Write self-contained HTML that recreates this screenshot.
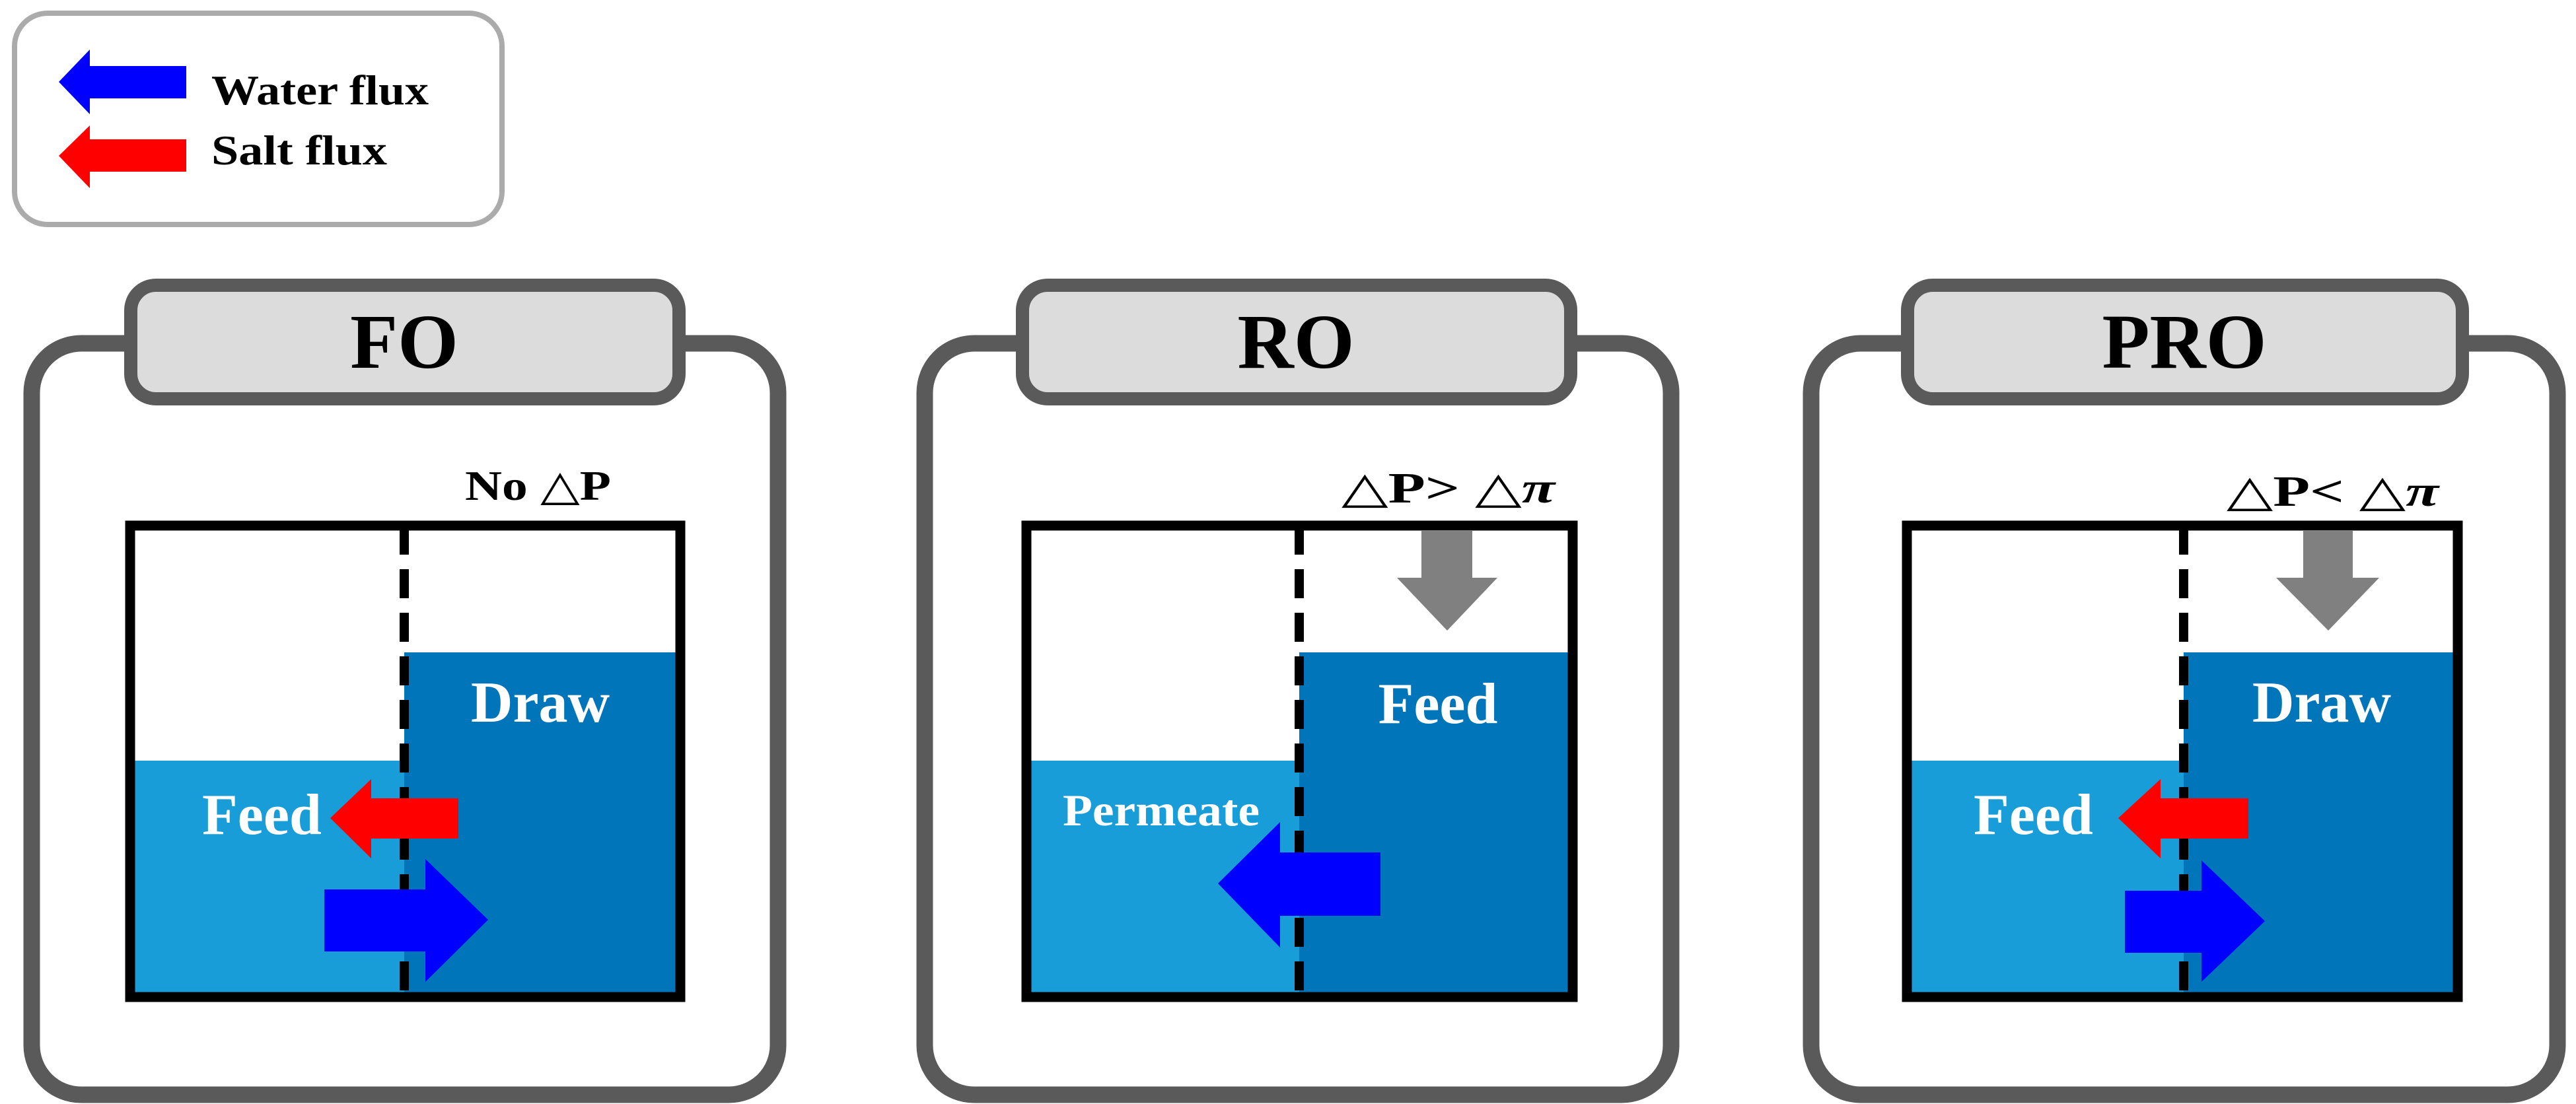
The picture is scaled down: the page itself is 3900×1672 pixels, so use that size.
<!DOCTYPE html>
<html><head><meta charset="utf-8"><style>
html,body{margin:0;padding:0;background:#fff}
svg{display:block}
text{font-family:"Liberation Serif","DejaVu Serif",serif;font-weight:bold}
</style></head><body>
<svg width="3900" height="1672" viewBox="0 0 3900 1672" xmlns="http://www.w3.org/2000/svg">
<!-- Legend -->
<rect x="22" y="20" width="738" height="320" rx="50" fill="#fff" stroke="#ababab" stroke-width="8"/>
<polygon points="89,124 136,75 136,100 282,100 282,149 136,149 136,173" fill="#0000ff"/>
<polygon points="89,236 136,190 136,211 282,211 282,260 136,260 136,285" fill="#ff0000"/>
<text x="320" y="158" font-size="64" fill="#000" textLength="329" lengthAdjust="spacingAndGlyphs">Water flux</text>
<text x="320" y="249" font-size="64" fill="#000" textLength="266" lengthAdjust="spacingAndGlyphs">Salt flux</text>

<!-- FO -->
<rect x="48" y="520" width="1130" height="1138" rx="75" fill="#fff" stroke="#5a5a5a" stroke-width="25"/>
<rect x="198" y="432" width="830" height="172" rx="38" fill="#dcdcdc" stroke="#5a5a5a" stroke-width="20"/>
<text x="612" y="557" font-size="118" text-anchor="middle" fill="#000">FO</text>
<text x="704" y="757" font-size="64" fill="#000" textLength="221" lengthAdjust="spacingAndGlyphs">No △P</text>
<rect x="197" y="1152" width="415" height="358" fill="#199dd8"/>
<rect x="612" y="988" width="418" height="522" fill="#0075b9"/>
<line x1="612" y1="796" x2="612" y2="1510" stroke="#000" stroke-width="14" stroke-dasharray="44,22"/>
<rect x="197" y="796" width="833" height="714" fill="none" stroke="#000" stroke-width="15"/>
<text x="818" y="1093" font-size="88" text-anchor="middle" fill="#fff">Draw</text>
<text x="306" y="1263" font-size="88" fill="#fff">Feed</text>
<polygon points="500,1239 562,1180 562,1209 694,1209 694,1270 562,1270 562,1300" fill="#ff0000"/>
<polygon points="491,1347 644,1347 644,1301 739,1393 644,1487 644,1441 491,1441" fill="#0000ff"/>

<!-- RO -->
<rect x="1400" y="520" width="1130" height="1138" rx="75" fill="#fff" stroke="#5a5a5a" stroke-width="25"/>
<rect x="1548" y="432" width="830" height="172" rx="38" fill="#dcdcdc" stroke="#5a5a5a" stroke-width="20"/>
<text x="1962" y="557" font-size="118" text-anchor="middle" fill="#000">RO</text>
<text x="2031" y="761" font-size="66" fill="#000" textLength="323" lengthAdjust="spacingAndGlyphs">△P&gt; △<tspan font-style="italic">π</tspan></text>
<rect x="1554" y="1152" width="413" height="358" fill="#199dd8"/>
<rect x="1967" y="988" width="414" height="522" fill="#0075b9"/>
<line x1="1967" y1="796" x2="1967" y2="1510" stroke="#000" stroke-width="14" stroke-dasharray="44,22"/>
<rect x="1554" y="796" width="827" height="714" fill="none" stroke="#000" stroke-width="15"/>
<polygon points="2152,803 2229,803 2229,875 2267,875 2191,955 2115,875 2152,875" fill="#808080"/>
<text x="2177" y="1095" font-size="88" text-anchor="middle" fill="#fff">Feed</text>
<text x="1609" y="1250" font-size="68" fill="#fff" textLength="298" lengthAdjust="spacingAndGlyphs">Permeate</text>
<polygon points="1844,1338 1938,1245 1938,1291 2090,1291 2090,1387 1938,1387 1938,1435" fill="#0000ff"/>

<!-- PRO -->
<rect x="2742" y="520" width="1130" height="1138" rx="75" fill="#fff" stroke="#5a5a5a" stroke-width="25"/>
<rect x="2888" y="432" width="840" height="172" rx="38" fill="#dcdcdc" stroke="#5a5a5a" stroke-width="20"/>
<text x="3307" y="557" font-size="118" text-anchor="middle" fill="#000">PRO</text>
<text x="3371" y="766" font-size="66" fill="#000" textLength="321" lengthAdjust="spacingAndGlyphs">△P&lt; △<tspan font-style="italic">π</tspan></text>
<rect x="2887" y="1152" width="419" height="358" fill="#199dd8"/>
<rect x="3306" y="988" width="415" height="522" fill="#0075b9"/>
<line x1="3306" y1="796" x2="3306" y2="1510" stroke="#000" stroke-width="14" stroke-dasharray="44,22"/>
<rect x="2887" y="796" width="834" height="714" fill="none" stroke="#000" stroke-width="15"/>
<polygon points="3487,803 3562,803 3562,875 3602,875 3525,955 3446,875 3487,875" fill="#808080"/>
<text x="3515" y="1093" font-size="88" text-anchor="middle" fill="#fff">Draw</text>
<text x="2988" y="1263" font-size="88" fill="#fff">Feed</text>
<polygon points="3207,1239 3271,1180 3271,1209 3404,1209 3404,1270 3271,1270 3271,1300" fill="#ff0000"/>
<polygon points="3217,1349 3333,1349 3333,1303 3429,1395 3333,1487 3333,1443 3217,1443" fill="#0000ff"/>
</svg>
</body></html>
